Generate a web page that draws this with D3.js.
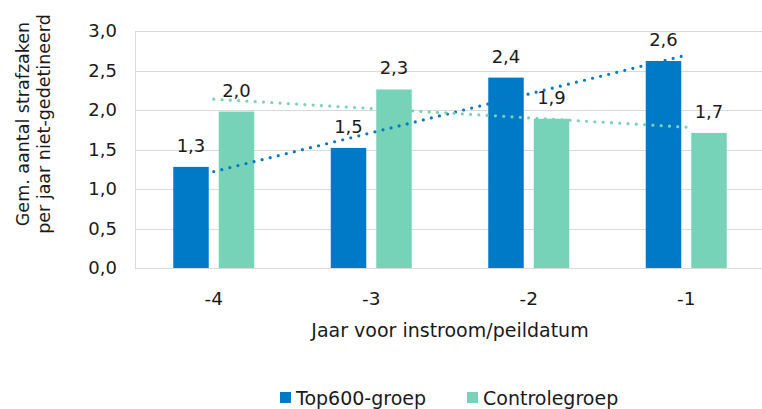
<!DOCTYPE html>
<html>
<head>
<meta charset="utf-8">
<script src="https://cdn.jsdelivr.net/npm/d3@7"></script>
<style>
  body { margin: 0; background: #fff; }
  text { font-family: "DejaVu Sans", Verdana, sans-serif; fill: #1a1a1a; }
</style>
</head>
<body>
<script>
// data
var categories = ["-4", "-3", "-2", "-1"];
var seriesNames = ["Top600-groep", "Controlegroep"];
var top600 = [1.28, 1.52, 2.41, 2.62];
var controle = [1.98, 2.26, 1.89, 1.71];
var yTicks = [0, 0.5, 1, 1.5, 2, 2.5, 3];
var colors = ["#0079c6", "#77d3b7"];

var W = 762, H = 409;
var plot = {left: 135, right: 765, top: 31, bottom: 268};

var svg = d3.select("body").append("svg")
    .attr("width", W)
    .attr("height", H);

var x0 = d3.scaleBand()
    .domain(categories)
    .range([plot.left, plot.right]);

var x1 = d3.scaleBand()
    .domain(seriesNames)
    .range([0, 81])
    .paddingInner(0.22);

var y = d3.scaleLinear()
    .domain([0, 3])
    .range([plot.bottom, plot.top]);

var fmt = function (v) { return d3.format(".1f")(v).replace(".", ","); };

// gridlines
svg.append("g")
    .selectAll("line")
    .data(yTicks)
    .enter()
    .append("line")
    .attr("x1", plot.left)
    .attr("x2", W)
    .attr("y1", function (d) { return Math.round(y(d)) + 0.5; })
    .attr("y2", function (d) { return Math.round(y(d)) + 0.5; })
    .attr("stroke", "#d9d9d9")
    .attr("stroke-width", 1);

// left axis line
svg.append("line")
    .attr("x1", plot.left + 0.5)
    .attr("x2", plot.left + 0.5)
    .attr("y1", plot.top)
    .attr("y2", plot.bottom)
    .attr("stroke", "#d9d9d9");

// y tick labels
svg.append("g")
    .selectAll("text")
    .data(yTicks)
    .enter()
    .append("text")
    .attr("x", 117)
    .attr("y", function (d) { return y(d); })
    .attr("dy", "0.36em")
    .attr("text-anchor", "end")
    .style("font-size", "18px")
    .text(fmt);

// x tick labels
svg.append("g")
    .selectAll("text")
    .data(categories)
    .enter()
    .append("text")
    .attr("x", function (d) { return x0(d) + x0.bandwidth() / 2; })
    .attr("y", 305)
    .attr("text-anchor", "middle")
    .style("font-size", "18.5px")
    .text(function (d) { return d; });

var table = categories.map(function (c, i) {
    return {cat: c, values: [
        {name: seriesNames[0], value: top600[i], color: colors[0]},
        {name: seriesNames[1], value: controle[i], color: colors[1]}
    ]};
});

var groups = svg.selectAll(".grp")
    .data(table)
    .enter()
    .append("g")
    .attr("transform", function (d) {
        return "translate(" + (x0(d.cat) + x0.bandwidth() / 2 - 40.5) + ",0)";
    });

groups.selectAll("rect")
    .data(function (d) { return d.values; })
    .enter()
    .append("rect")
    .attr("x", function (d) { return x1(d.name); })
    .attr("width", x1.bandwidth())
    .attr("y", function (d) { return y(d.value); })
    .attr("height", function (d) { return y(0) - y(d.value); })
    .attr("fill", function (d) { return d.color; });

// linear trendlines (least squares, like the spreadsheet)
function trend(vals) {
    var n = vals.length;
    var mx = (n + 1) / 2, my = d3.mean(vals);
    var sxy = 0, sxx = 0;
    vals.forEach(function (v, i) {
        sxy += (i + 1 - mx) * (v - my);
        sxx += (i + 1 - mx) * (i + 1 - mx);
    });
    var b = sxy / sxx;
    return [my + b * (1 - mx), my + b * (n - mx)];
}

[top600, controle].forEach(function (vals, k) {
    var t = trend(vals);
    svg.append("line")
        .attr("x1", x0(categories[0]) + x0.bandwidth() / 2)
        .attr("x2", x0(categories[categories.length - 1]) + x0.bandwidth() / 2)
        .attr("y1", y(t[0]))
        .attr("y2", y(t[1]))
        .attr("stroke", colors[k])
        .attr("stroke-width", 3.2)
        .attr("stroke-linecap", "round")
        .attr("stroke-dasharray", "0 8.3");
});

// data labels
groups.selectAll(".lbl")
    .data(function (d) { return d.values; })
    .enter()
    .append("text")
    .attr("x", function (d) { return x1(d.name) + x1.bandwidth() / 2; })
    .attr("y", function (d) { return y(d.value) - 15; })
    .attr("text-anchor", "middle")
    .style("font-size", "18px")
    .text(function (d) { return fmt(d.value); });

// axis titles
svg.append("text")
    .attr("x", (plot.left + plot.right) / 2)
    .attr("y", 337)
    .attr("text-anchor", "middle")
    .style("font-size", "19px")
    .text("Jaar voor instroom/peildatum");

var yt = svg.append("text")
    .attr("transform", "translate(29,124) rotate(-90)")
    .attr("text-anchor", "middle")
    .style("font-size", "17.5px");
yt.append("tspan").attr("x", 0).attr("y", 0).text("Gem. aantal strafzaken");
yt.append("tspan").attr("x", 0).attr("y", 21).text("per jaar niet-gedetineerd");

// legend
var legendX = [280, 467];
var legend = svg.selectAll(".leg")
    .data(seriesNames)
    .enter()
    .append("g")
    .attr("transform", function (d, i) { return "translate(" + legendX[i] + ",392)"; });

legend.append("rect")
    .attr("width", 11)
    .attr("height", 11)
    .attr("fill", function (d, i) { return colors[i]; });

legend.append("text")
    .attr("x", 16)
    .attr("y", 13)
    .style("font-size", "19px")
    .text(function (d) { return d; });
</script>
</body>
</html>
